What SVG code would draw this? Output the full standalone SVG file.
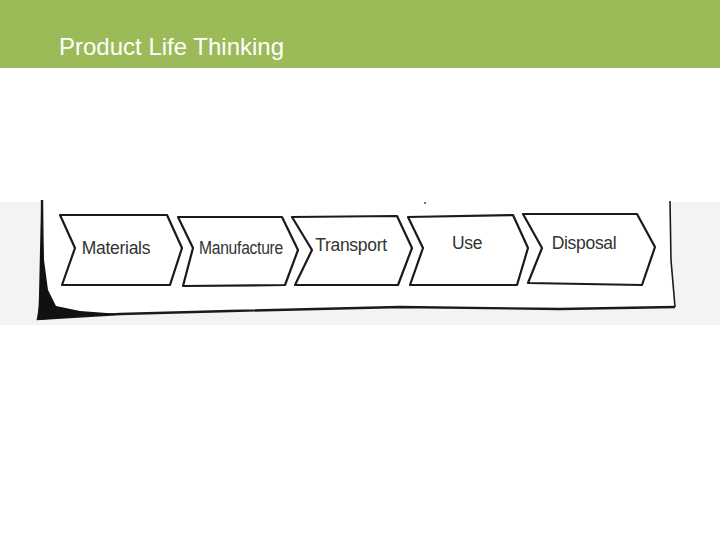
<svg xmlns="http://www.w3.org/2000/svg" width="720" height="540" viewBox="0 0 720 540">
<style>
.chev{fill:#fff;stroke:#1a1a1a;stroke-width:2.2;stroke-linejoin:round}
.lbl{font-family:"Liberation Sans Narrow","Liberation Sans",sans-serif;font-size:17.5px;fill:#333;letter-spacing:-0.3px}
.title{font-family:"Liberation Sans",Arial,sans-serif;font-size:24px;fill:#fff}
</style>
<rect x="0" y="0" width="720" height="540" fill="#fff"/>
<rect x="0" y="0" width="720" height="68" fill="#9bbb59"/>
<text class="title" x="59" y="55">Product Life Thinking</text>
<rect x="0" y="202" width="720" height="123" fill="#f2f3f3"/>
<g id="paper">
<path d="M42,200 L670,201 L672,260 L675,307 L560,309 L400,307 L230,311 L120,314 L38,319 Z" fill="#fff"/>
<path d="M42,200 L43,290 L38,319 L120,314 L230,311 L400,307 L560,309 L675,307" fill="none" stroke="#1a1a1a" stroke-width="2.4"/>
<path d="M670,201 L671,260 L675,307" fill="none" stroke="#1a1a1a" stroke-width="1.6"/>
<path d="M41,205 L44,260 L48,290 L56,306 L80,311 L120,314 L60,318 L38,320 L39,295 Z" fill="#111"/>
<circle cx="425" cy="203" r="0.9" fill="#333"/>
</g>
<g id="materials">
<polygon class="chev" points="60,215 167,215 182,248 170,285 62,285 75,248"/>
<text class="lbl" x="116" y="254" text-anchor="middle">Materials</text>
</g>
<g id="manufacture">
<polygon class="chev" points="178,217 282,217 298,250 285,285 183,286 193,248"/>
<text class="lbl" x="241" y="254" text-anchor="middle" textLength="84" lengthAdjust="spacingAndGlyphs">Manufacture</text>
</g>
<g id="transport">
<polygon class="chev" points="292,217 397,216 412,248 398,285 295,285 312,250"/>
<text class="lbl" x="351" y="251" text-anchor="middle">Transport</text>
</g>
<g id="use">
<polygon class="chev" points="408,217 513,215 528,248 517,285 410,285 423,248"/>
<text class="lbl" x="467" y="249" text-anchor="middle">Use</text>
</g>
<g id="disposal">
<polygon class="chev" points="523,214 637,214 655,247 642,285 528,283 542,248"/>
<text class="lbl" x="584" y="249" text-anchor="middle">Disposal</text>
</g>
<g id="connectors"></g>
</svg>
